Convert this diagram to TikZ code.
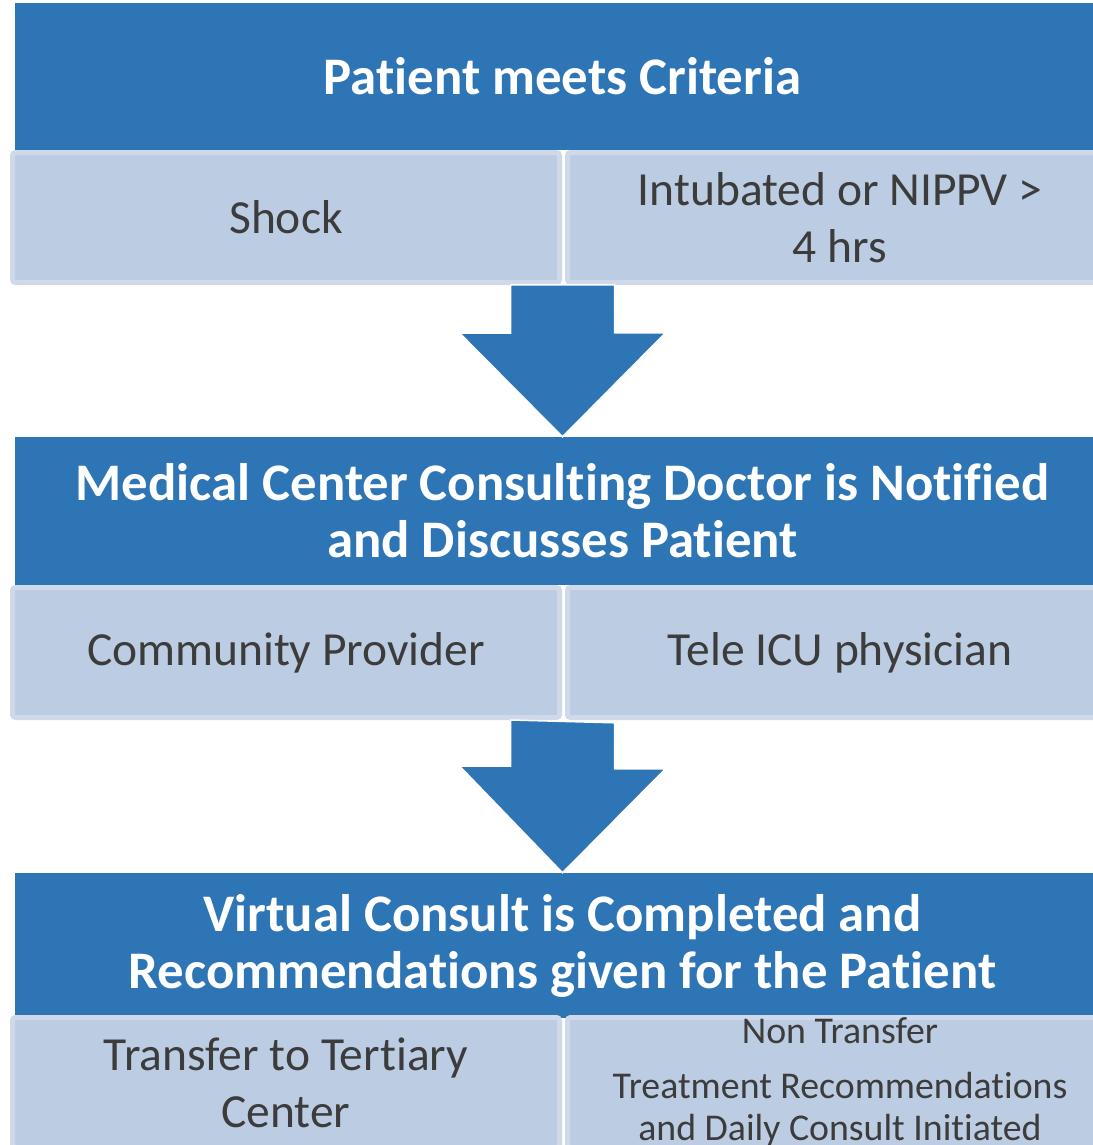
\documentclass[tikz,border=0pt]{standalone}
\usepackage{fontspec}
\setmainfont{Carlito}[Ligatures=NoCommon]
\usetikzlibrary{positioning}
\definecolor{hdrblue}{RGB}{46,117,182}
\definecolor{optfill}{RGB}{188,204,226}
\definecolor{optedge}{RGB}{207,217,233}
\definecolor{optgray}{RGB}{60,60,60}
\begin{document}
\begin{tikzpicture}[x=1pt, y=-1pt]
	\tikzstyle{hdr} = [rectangle, fill=hdrblue, text=white, font=\fontsize{52.8}{57}\selectfont\bfseries, minimum width=1095pt, inner sep=0pt, align=center]
	\tikzstyle{opt} = [rectangle, fill=optfill, draw=optedge, line width=5pt, rounded corners=3pt, text=optgray, font=\fontsize{47.5}{57}\selectfont, minimum height=130pt, inner sep=0pt, align=center]
	\tikzstyle{blockarrow} = [fill=hdrblue, draw=white, line width=1.5pt, line join=miter]
	\useasboundingbox (0,0) rectangle (1092,1145);
	\node[hdr, minimum height=147pt] (crit) at (562.5,76.5) {Patient meets Criteria};
	\node[opt, minimum width=547pt] (shock) at (286,217.5) {Shock};
	\node[opt, minimum width=545pt, right=3pt of shock] (intub) {Intubated or NIPPV >\\4 hrs};
	\node[hdr, minimum height=148pt] (notify) at (562.5,511) {Medical Center Consulting Doctor is Notified\\and Discusses Patient};
	\node[opt, minimum width=547pt] (commprov) at (286,652.5) {Community Provider};
	\node[opt, minimum width=545pt, right=3pt of commprov] (teleicu) {Tele ICU physician};
	\node[hdr, minimum height=145pt] (consult) at (562.5,945.5) {Virtual Consult is Completed and\\Recommendations given for the Patient};
	\node[opt, minimum width=547pt] (transfer) at (286,1082.5) {Transfer to Tertiary\\Center};
	\node[opt, minimum width=545pt, right=3pt of transfer, font=\fontsize{37.8}{42}\selectfont] (nontransfer) {Non Transfer\\[13pt]Treatment Recommendations\\and Daily Consult Initiated};
	\draw[blockarrow] (crit |- shock.south) ++(-52,0) -- ++(0,48) -- ++(-51,0) -- (notify.north) -- ++(103,-104) -- ++(-51,0) -- ++(0,-48) -- cycle;
	\draw[blockarrow] (notify |- commprov.south) ++(-52,0) -- ++(0,46) -- ++(-51,0) -- (consult.north) -- ++(103,-104) -- ++(-51,0) -- ++(0,-46) -- cycle;
\end{tikzpicture}
\end{document}
